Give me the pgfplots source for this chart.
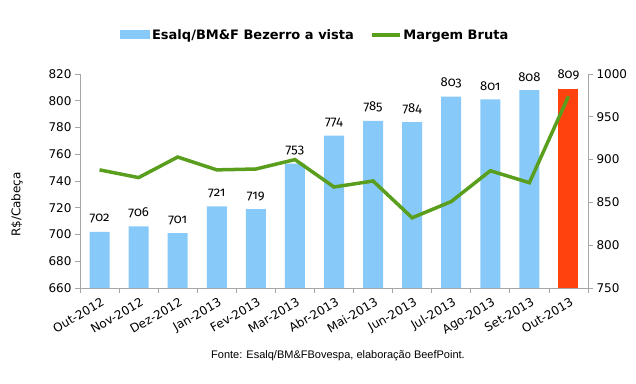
\documentclass[border=0pt]{standalone}
\usepackage{fontspec}
\setmainfont{DejaVu Sans}
\newfontfamily\osf[Numbers=OldStyle]{Fira Sans}
\newfontfamily\arialf{Liberation Sans}
\usepackage{pgfplots}
\pgfplotsset{compat=1.18}
\definecolor{barblue}{HTML}{87CAFA}
\definecolor{barred}{HTML}{FF420E}
\definecolor{linegreen}{HTML}{5A9E1E}
\definecolor{axgray}{HTML}{A6A6A6}
\begin{document}
\begin{tikzpicture}
\pgfplotsset{
  base/.style={
    scale only axis, width=508pt, height=214pt,
    xmin=-0.5, xmax=12.5,
    axis line style={axgray, line width=0.8pt},
    tick style={axgray, line width=0.8pt},
    tick align=outside,
    major tick length=5pt,
    minor tick length=5pt,
    /pgf/number format/assume math mode=true,
    /pgf/number format/1000 sep={},
    tick label style={font=\fontsize{12}{14}\selectfont, black},
  }
}
\begin{axis}[base,
  ymin=660, ymax=820, ytick={660,680,...,820},
  axis y line*=left, axis x line*=bottom,
  xtick={0,...,12},
  xticklabels={Out-2012,Nov-2012,Dez-2012,Jan-2013,Fev-2013,Mar-2013,Abr-2013,Mai-2013,Jun-2013,Jul-2013,Ago-2013,Set-2013,Out-2013},
  major x tick style={draw=none},
  minor xtick={-0.5,0.5,...,12.5},
  x tick label style={rotate=30, anchor=north east, inner sep=1pt, yshift=-3pt},
  ylabel={R\$/Cabeça},
  ylabel style={at={(axis description cs:-0.124,0.39)}, anchor=center, font=\fontsize{12}{14}\selectfont},
  ybar, bar width=20pt, bar shift=0pt,
  nodes near coords={\osf\pgfmathprintnumber{\pgfplotspointmeta}},
  every node near coord/.append style={font=\fontsize{13}{15}\selectfont, black, yshift=5pt},
  legend style={at={(axis description cs:0.463,1.182)}, anchor=center, draw=none, fill=none,
    font=\bfseries\fontsize{13}{15}\selectfont, legend columns=2,
    /tikz/every even column/.append style={column sep=14pt}},
]
\addplot[fill=barblue, draw=none,
  legend image code/.code={\fill[barblue] (0pt,-4pt) rectangle (30pt,5pt);}]
  coordinates {(0,702) (1,706) (2,701) (3,721) (4,719) (5,753) (6,774) (7,785) (8,784) (9,803) (10,801) (11,808)};
\addlegendentry{Esalq/BM\&F Bezerro a vista}
\addplot[fill=barred, draw=none, forget plot]
  coordinates {(12,809)};
\addlegendimage{legend image code/.code={\draw[linegreen, line width=3.5pt] (0pt,0pt) -- (28pt,0pt);}}
\addlegendentry{Margem Bruta}
\end{axis}
\begin{axis}[base,
  ymin=750, ymax=1000, ytick={750,800,...,1000},
  axis y line*=right, axis x line=none,
]
\addplot[linegreen, line width=3.5pt, mark=none]
  coordinates {(0,888) (1,879) (2,903) (3,888) (4,889) (5,900) (6,868) (7,875) (8,832) (9,851) (10,887) (11,873) (12,974)};
\end{axis}
\node[font=\arialf\fontsize{11}{13}\selectfont, anchor=center] at (258pt,-68pt) {Fonte: Esalq/BM\&FBovespa, elaboração BeefPoint.};
\pgfresetboundingbox
\path[use as bounding box] (-80pt,-95pt) rectangle (556pt,288pt);
\end{tikzpicture}
\end{document}
